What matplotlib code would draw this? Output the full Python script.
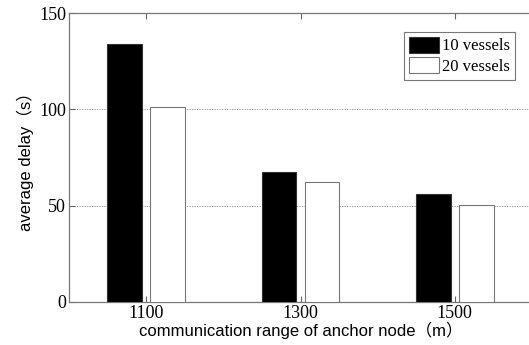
import matplotlib.pyplot as plt
import numpy as np

ranges = ["1100", "1300", "1500"]
delay_10 = [134, 67.5, 56]
delay_20 = [101, 62.5, 50.5]
series_names = ["10 vessels", "20 vessels"]

serif = ["Liberation Serif", "DejaVu Serif"]
sans = ["Liberation Sans", "Noto Sans CJK SC", "DejaVu Sans"]

fig = plt.figure(figsize=(5.29, 3.45), dpi=100)
ax = fig.add_axes([69 / 529, 43 / 345, 463 / 529, 289 / 345])

x = np.arange(len(ranges))
w = 0.225
ax.bar(x - 0.14, delay_10, w, color="black", edgecolor="#333333", linewidth=0.8,
       label=series_names[0], zorder=3)
ax.bar(x + 0.14, delay_20, w, color="white", edgecolor="#777777", linewidth=0.8,
       label=series_names[1], zorder=3)

ax.set_xlim(-0.5, len(ranges) - 0.5)
ax.set_ylim(0, 150)
ax.set_xticks(x)
ax.set_xticklabels(ranges, family=serif, fontsize=13)
ax.set_yticks([0, 50, 100, 150])
ax.set_yticklabels(["0", "50", "100", "150"], family=serif, fontsize=13)
ax.tick_params(direction="in", top=True, right=False, length=4, color="#666666", pad=2)
ax.yaxis.grid(True, linestyle=(0, (1.5, 1.5)), color="#888888", linewidth=0.6)
for s in ax.spines.values():
    s.set_color("#777777")
    s.set_linewidth(0.9)

ax.set_ylabel("average delay（s）", family=sans, fontsize=12, labelpad=4)
ax.set_xlabel("communication range of anchor node（m）", family=sans, fontsize=12, labelpad=0)

leg = ax.legend(loc="upper right", bbox_to_anchor=(0.963, 0.935), prop={"family": serif, "size": 12},
                fancybox=False, framealpha=1, edgecolor="#777777", handlelength=1.8,
                handleheight=1.1, handletextpad=0.2, borderpad=0.3, labelspacing=0.15,
                borderaxespad=0)
leg.get_frame().set_linewidth(0.8)

fig.savefig("out.png", dpi=100)
